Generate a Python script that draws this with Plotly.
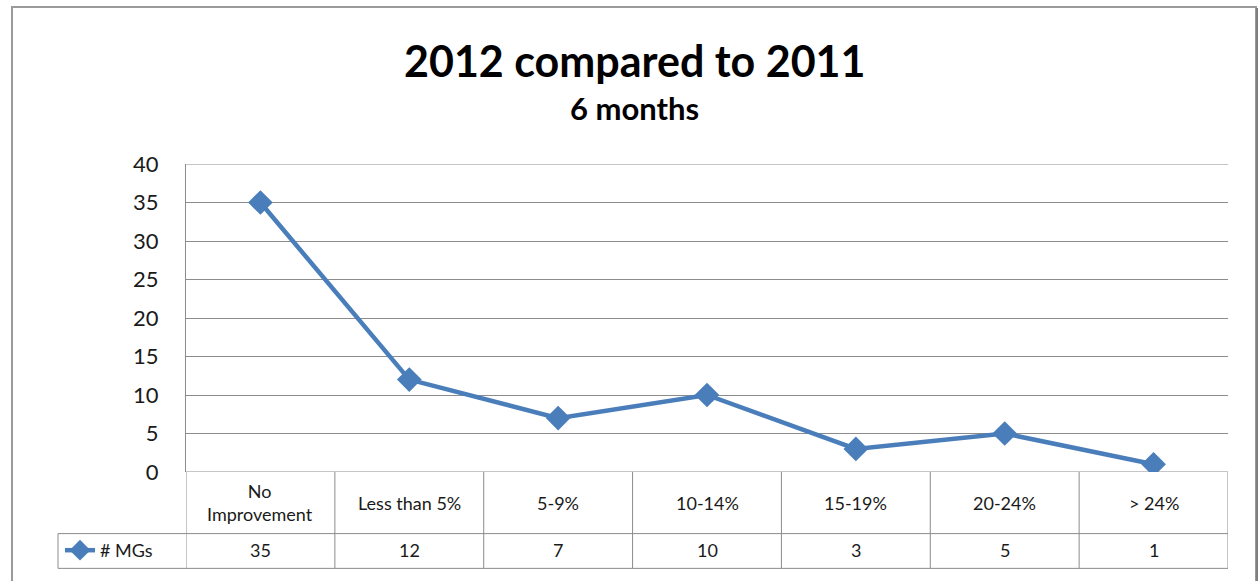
import plotly.graph_objects as go

categories = ["No<br>Improvement", "Less than 5%", "5-9%", "10-14%", "15-19%", "20-24%", "> 24%"]
series_name = "# MGs"
values = [35, 12, 7, 10, 3, 5, 1]
y_ticks = [0, 5, 10, 15, 20, 25, 30, 35, 40]

W, H = 1259, 581
L, R, T, B = 186, 1228, 164, 474
PW, PH = R - L, B - T

def px(x):
    return (x - L) / PW

def py(y):
    return (B - y) / PH

FONT = "Lato"
BLUE = "#4A7EBB"
GRID = "#8C8C8C"
TXT = "#1A1A1A"

fig = go.Figure()
fig.add_trace(go.Scatter(
    x=list(range(len(values))), y=values, name=series_name,
    mode="lines+markers",
    line=dict(color=BLUE, width=4.5),
    marker=dict(symbol="diamond", size=19, color=BLUE),
    showlegend=True,
))

shapes = []
annotations = []

# outer chart border
shapes.append(dict(type="rect", xref="paper", yref="paper",
                   x0=px(12), x1=px(1256), y0=py(590), y1=py(6),
                   line=dict(color="#9A9A9A", width=2), layer="below"))
shapes.append(dict(type="line", xref="paper", yref="paper",
                   x0=px(1257), x1=px(1257), y0=py(590), y1=py(7),
                   line=dict(color="#7F7F7F", width=2)))

# top and bottom edges of plot area
for yv in (y_ticks[0], y_ticks[-1]):
    shapes.append(dict(type="line", xref="paper", yref="y",
                       x0=0, x1=1, y0=yv, y1=yv,
                       line=dict(color=GRID, width=1), layer="below"))

# data table lines
n = len(categories)
for i in range(n + 1):
    shapes.append(dict(type="line", xref="x", yref="paper",
                       x0=i - 0.5, x1=i - 0.5, y0=py(571), y1=py(474),
                       line=dict(color=GRID, width=1)))
shapes.append(dict(type="line", xref="paper", yref="paper",
                   x0=px(58), x1=1, y0=py(536), y1=py(536),
                   line=dict(color=GRID, width=1)))
shapes.append(dict(type="line", xref="paper", yref="paper",
                   x0=px(58), x1=1, y0=py(571), y1=py(571),
                   line=dict(color=GRID, width=1)))
shapes.append(dict(type="line", xref="paper", yref="paper",
                   x0=px(58), x1=px(58), y0=py(571), y1=py(536),
                   line=dict(color=GRID, width=1)))

for i, (c, v) in enumerate(zip(categories, values)):
    annotations.append(dict(x=i, y=py(505), xref="x", yref="paper", text=c,
                            showarrow=False, font=dict(family=FONT, size=18, color=TXT),
                            xanchor="center", yanchor="middle"))
    annotations.append(dict(x=i, y=py(553), xref="x", yref="paper", text=str(v),
                            showarrow=False, font=dict(family=FONT, size=18, color=TXT),
                            xanchor="center", yanchor="middle"))

# titles
annotations.append(dict(x=px(634), y=py(60), xref="paper", yref="paper",
                        text="<b>2012 compared to 2011</b>", showarrow=False,
                        font=dict(family=FONT, size=43, color="#000000"),
                        xanchor="center", yanchor="middle"))
annotations.append(dict(x=px(634), y=py(108), xref="paper", yref="paper",
                        text="<b>6 months</b>", showarrow=False,
                        font=dict(family=FONT, size=31, color="#000000"),
                        xanchor="center", yanchor="middle"))

fig.update_layout(
    width=W, height=H,
    margin=dict(l=L, r=W - R, t=T, b=H - B, pad=0),
    paper_bgcolor="white", plot_bgcolor="white",
    shapes=shapes, annotations=annotations,
    legend=dict(x=px(60), y=py(553), xanchor="left", yanchor="middle",
                font=dict(family=FONT, size=18, color=TXT),
                bgcolor="rgba(0,0,0,0)", itemwidth=30),
    xaxis=dict(range=[-0.5, n - 0.5], showticklabels=False, showgrid=False,
               zeroline=False, showline=False, fixedrange=True),
    yaxis=dict(range=[0, 40], tickvals=y_ticks, showgrid=True, gridcolor=GRID,
               gridwidth=1, zeroline=False, showline=True, linecolor=GRID,
               linewidth=1, ticks="", ticklabelstandoff=22,
               tickfont=dict(family=FONT, size=22, color=TXT)),
)

fig.write_html("out.html", config={"displayModeBar": False},
               post_script="document.body.style.margin='0';document.body.style.overflow='hidden';")
